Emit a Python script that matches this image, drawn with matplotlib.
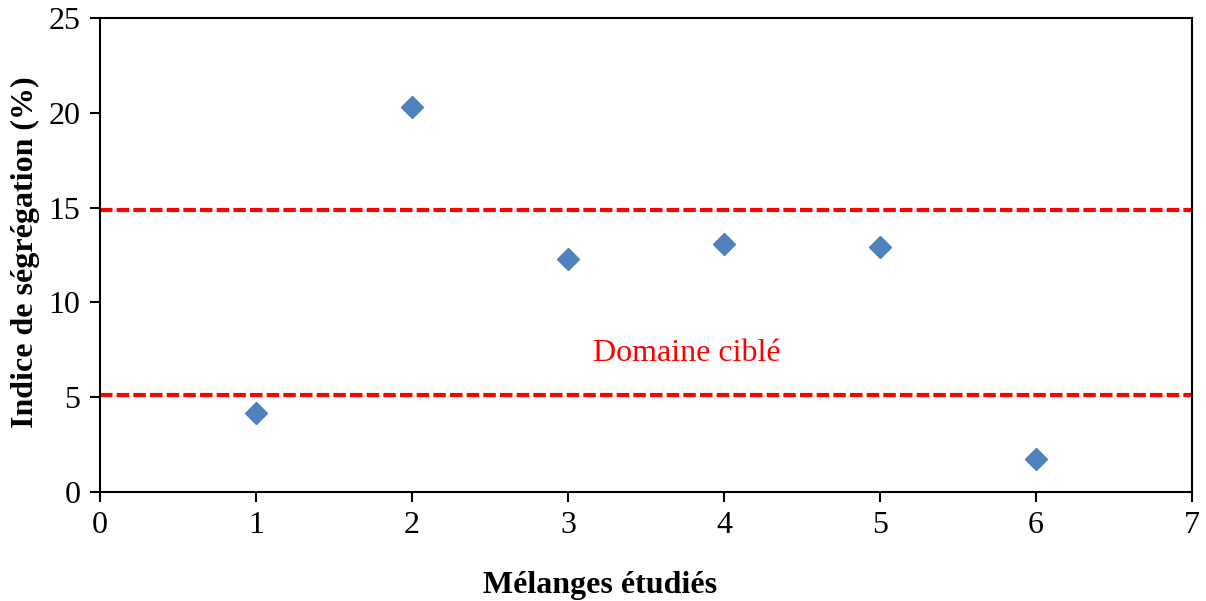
import matplotlib.pyplot as plt

melanges = [1, 2, 3, 4, 5, 6]
indice = [4.15, 20.3, 12.3, 13.1, 12.9, 1.7]
borne_basse = 5.1
borne_haute = 14.9

plt.rcParams["font.family"] = ["Liberation Serif", "DejaVu Serif"]

fig = plt.figure(figsize=(12.06, 6.01), dpi=100)
ax = fig.add_axes([0.0829, 0.1819, 0.9055, 0.7876])

ax.axhline(borne_haute, color="red", lw=3, dashes=(3, 1))
ax.axhline(borne_basse, color="red", lw=3, dashes=(3, 1))
ax.plot(melanges, indice, "D", color="#4F81BD", ms=11, ls="none")

ax.text(3.76, 7.3, "Domaine ciblé", color="red", fontsize=23, ha="center", va="center")

ax.set_xlim(0, 7)
ax.set_ylim(0, 25)
ax.set_xticks(range(0, 8))
ax.set_yticks(range(0, 26, 5))
ax.tick_params(labelsize=23, direction="out", length=7, width=1.5, pad=7)
for s in ax.spines.values():
    s.set_linewidth(1.5)

ax.set_xlabel("Mélanges étudiés", fontsize=23, fontweight="bold")
ax.set_ylabel("Indice de ségrégation (%)", fontsize=23, fontweight="bold")
ax.xaxis.set_label_coords(0.458, -0.168)
ax.yaxis.set_label_coords(-0.055, 0.506)

fig.savefig("out.png", dpi=100)
